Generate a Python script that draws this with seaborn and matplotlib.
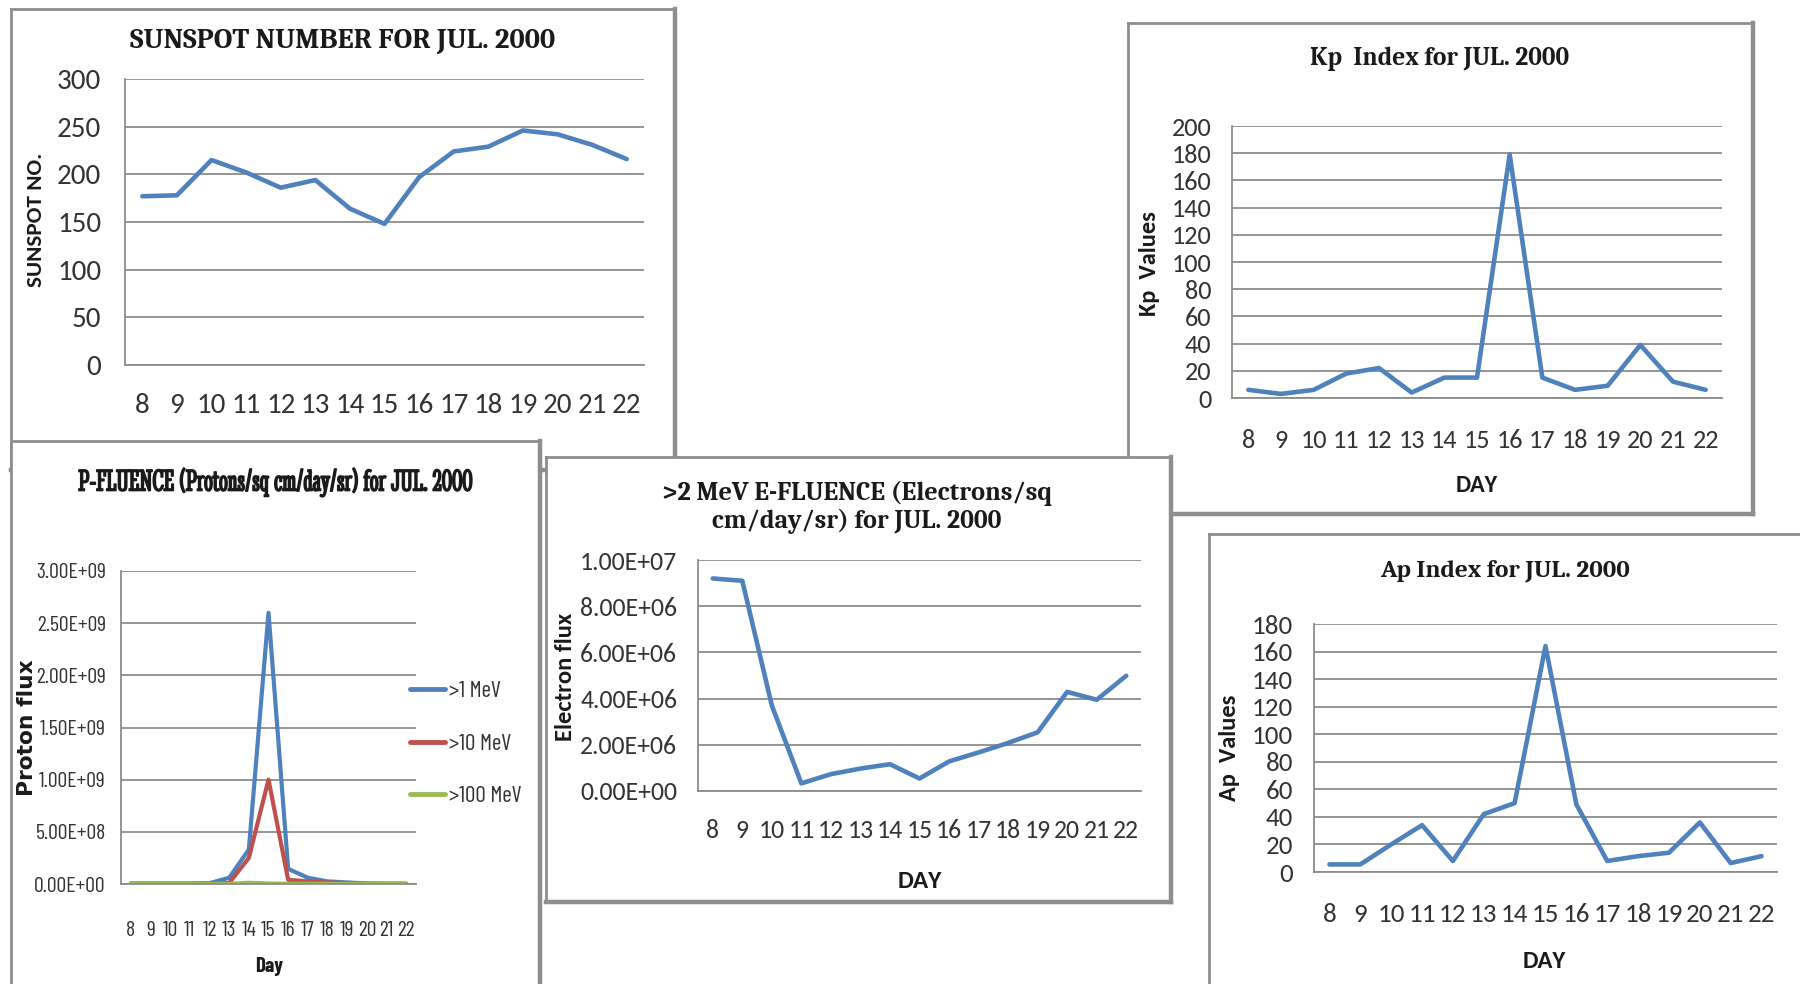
import numpy as np
import pandas as pd
import matplotlib
matplotlib.use("Agg")
import matplotlib.pyplot as plt
import matplotlib.patheffects as pe
import seaborn as sns
from matplotlib import font_manager
from matplotlib.font_manager import FontProperties
from matplotlib.textpath import TextPath
from matplotlib.ticker import FuncFormatter

# ---- data (July 2000, days 8-22) ----
days = [8, 9, 10, 11, 12, 13, 14, 15, 16, 17, 18, 19, 20, 21, 22]
sunspot_no = [177, 178, 215, 202, 186, 194, 164, 148, 197, 224, 229, 246, 242, 231, 216]
kp_values = [6, 3, 6, 18, 22, 4, 15, 15, 179, 15, 6, 9, 39, 12, 6]
ap_values = [5.5, 5.5, 20, 34, 8, 42, 50, 164, 49, 8, 11.5, 14, 36, 6.5, 11.5]
electron_flux = [9.20e6, 9.10e6, 3.70e6, 0.33e6, 0.73e6, 0.97e6, 1.16e6, 0.54e6,
                 1.28e6, 1.67e6, 2.08e6, 2.54e6, 4.29e6, 3.95e6, 4.99e6]
proton_1mev = [5e6, 5e6, 5e6, 5e6, 8e6, 6e7, 3.3e8, 2.6e9, 1.45e8, 6e7, 2.5e7, 1.5e7, 5e6, 3e6, 3e6]
proton_10mev = [2e6, 2e6, 2e6, 2e6, 2e6, 1e7, 2.5e8, 1.0e9, 4e7, 2.5e7, 1.5e7, 8e6, 3e6, 2e6, 2e6]
proton_100mev = [1e6, 1e6, 1e6, 1e6, 1e6, 2e6, 1.2e7, 5e6, 2e6, 1e6, 1e6, 1e6, 1e6, 1e6, 1e6]
energy_labels = [">1 MeV", ">10 MeV", ">100 MeV"]

BLUE, RED, GREEN = "#4F81BD", "#C0504D", "#9BBB59"
GRID = "#8C8C8C"
FRAME = "#8E8E8E"
TXT = "#1a1a1a"
TICK = "#333333"

sns.set_theme(style="white")
fonts = font_manager.fontManager.ttflist
installed = {f.name for f in fonts}
with_bold = {f.name for f in fonts if (f.weight if isinstance(f.weight, int) else 400) >= 600
             or f.weight in ("bold", "semibold", "demibold", "heavy", "black")}


def pick(*names):
    return next((n for n in names if n in installed), "DejaVu Sans")


def extent(text, family, weight="normal"):
    fp = FontProperties(family=[family], weight=weight, size=100)
    return TextPath((0, 0), text, prop=fp).get_extents()


def closest(text, ref_glyph, target, names, weight="normal"):
    """Installed family whose width/glyph-height ratio for `text` is nearest `target`."""
    avail = [n for n in names if n in installed] or ["DejaVu Sans"]

    def score(n):
        r = extent(text, n, weight).width / extent(ref_glyph, n, weight).height
        return abs(r - target)
    return min(avail, key=score)


SANS = pick("Carlito", "Liberation Sans", "DejaVu Sans")
SERIF = pick("Caladea", "Liberation Serif", "DejaVu Serif")
WIDE = pick("DejaVu Sans")
P_TITLE = "P-FLUENCE (Protons/sq cm/day/sr) for JUL. 2000"
NARROW_SERIF = closest(P_TITLE, "H", 21.8,
                       ["Caladea", "Liberation Serif", "PT Serif", "Source Serif 4", "Crimson Pro",
                        "EB Garamond", "Libre Caslon Condensed", "Stint Ultra Condensed",
                        "Oranienbaum", "Noto Serif Display", "Playfair Display"], "bold")
NARROW = closest("3.00E+09", "0", 4.33,
                 ["PT Sans Narrow", "Archivo Narrow", "Roboto Condensed", "Barlow Condensed",
                  "Barlow Semi Condensed", "Sofia Sans Condensed", "Sofia Sans Extra Condensed",
                  "Saira Condensed", "Saira ExtraCondensed", "Encode Sans Condensed",
                  "Asap Condensed", "Cabin Condensed", "Fira Sans Condensed",
                  "IBM Plex Sans Condensed", "Pragati Narrow", "Reddit Sans Condensed"])
plt.rcParams["font.family"] = [SANS, "DejaVu Sans"]

W, H, DPI = 1800, 984, 100
fig = plt.figure(figsize=(W / DPI, H / DPI), dpi=DPI)
fig.patch.set_facecolor("white")


def fit(text, family, width_px, weight="normal"):
    """Font size (pt) at which `text` spans `width_px` pixels."""
    w = extent(text, family, weight).width
    return width_px * 72.0 / DPI * 100.0 / w


def rect(x0, y0, x1, y1):
    return [x0 / W, 1 - y1 / H, (x1 - x0) / W, (y1 - y0) / H]


def card(box, z):
    ax = fig.add_axes(rect(*box), zorder=z)
    ax.set_xticks([])
    ax.set_yticks([])
    ax.set_facecolor("white")
    for side, s in ax.spines.items():
        s.set_visible(True)
        s.set_color(FRAME)
        s.set_linewidth(3.2 if side in ("right", "bottom") else 2.0)
    return ax


def put(ax, x, y, s, family, width, weight="bold", rotation=0):
    size = fit(s, family, width, weight)
    t = ax.text(x / W, 1 - y / H, s, transform=fig.transFigure, ha="center", va="center",
                color=TXT, fontsize=size, fontweight=weight, family=[family], rotation=rotation)
    if weight == "bold" and family not in with_bold:
        # thicken strokes of families that ship only a regular face
        t.set_path_effects([pe.withStroke(linewidth=1.1, foreground=TXT)])
    return t


def chart(area, z, ymax, ystep, fmt, font, size, xpad, ypad):
    ax = fig.add_axes(rect(*area), zorder=z)
    ax.set_facecolor("none")
    ax.set_xlim(-0.5, len(days) - 0.5)
    ax.set_ylim(0, ymax)
    ax.set_yticks(np.arange(0, ymax + ystep / 2, ystep))
    ax.yaxis.set_major_formatter(FuncFormatter(fmt))
    ax.set_xticks(range(len(days)))
    ax.set_xticklabels([str(d) for d in days])
    ax.grid(False)
    ax.yaxis.grid(True, color=GRID, linewidth=1.3)
    for side in ("top", "right"):
        ax.spines[side].set_visible(False)
    for side in ("left", "bottom"):
        ax.spines[side].set_color(GRID)
        ax.spines[side].set_linewidth(1.3)
    ax.tick_params(axis="x", length=0, pad=xpad, labelsize=size, labelcolor=TICK)
    ax.tick_params(axis="y", length=0, pad=ypad, labelsize=size, labelcolor=TICK)
    for lab in ax.get_xticklabels() + ax.get_yticklabels():
        lab.set_fontfamily([font, "DejaVu Sans"])
    return ax


def finish(ax):
    ax.set_xlabel("")
    ax.set_ylabel("")


pos = np.arange(len(days))
int_fmt = lambda v, p: f"{v:.0f}"
sci_fmt = lambda v, p: f"{v:.2E}"

# ---- Sunspot number ----
c1 = card((11, 9, 675, 470), 1)
put(c1, 343, 41, "SUNSPOT NUMBER FOR JUL. 2000", SERIF, 423)
put(c1, 36, 220, "SUNSPOT NO.", SANS, 133, rotation=90)
a1 = chart((125, 79, 644, 365), 2, 300, 50, int_fmt, SANS, fit("300", SANS, 42), 20, 17)
df1 = pd.DataFrame({"pos": pos, "value": sunspot_no})
sns.lineplot(data=df1, x="pos", y="value", ax=a1, color=BLUE, linewidth=3.3, legend=False)
finish(a1)

# ---- Kp index ----
c2 = card((1128, 23, 1753, 514), 3)
put(c2, 1440, 59, "Kp  Index for JUL. 2000", SERIF, 258)
put(c2, 1149, 264, "Kp  Values", SANS, 103, rotation=90)
put(c2, 1477, 486, "DAY", SANS, 41)
a2 = chart((1232, 126, 1722, 398), 4, 200, 20, int_fmt, SANS, fit("200", SANS, 38), 22, 15)
df2 = pd.DataFrame({"pos": pos, "value": kp_values})
sns.lineplot(data=df2, x="pos", y="value", ax=a2, color=BLUE, linewidth=3.3, legend=False)
finish(a2)

# ---- Proton fluence ----
c3 = card((11, 441, 540, 1010), 5)
put(c3, 276, 482, P_TITLE, NARROW_SERIF, 393)
put(c3, 27, 728, "Proton flux", WIDE, 134, rotation=90)
put(c3, 269, 966, "Day", NARROW, 27)
a3 = chart((121, 571, 416, 884), 6, 3e9, 5e8, sci_fmt, NARROW, fit("3.00E+09", NARROW, 68), 27, 11)
df3 = pd.DataFrame({
    "pos": np.tile(pos, 3),
    "flux": proton_1mev + proton_10mev + proton_100mev,
    "energy": np.repeat(energy_labels, len(days)),
})
sns.lineplot(data=df3, x="pos", y="flux", hue="energy", hue_order=energy_labels,
             palette=[BLUE, RED, GREEN], ax=a3, linewidth=3.0)
finish(a3)
leg_size = fit(">100 MeV", NARROW, 71)
leg_px = leg_size * DPI / 72
leg = a3.legend(loc="center left", bbox_to_anchor=(410 / W, 1 - 744 / H),
                bbox_transform=fig.transFigure, frameon=False, borderpad=0, borderaxespad=0,
                handlelength=35 / leg_px, handletextpad=4 / leg_px,
                labelspacing=54 / leg_px - 1.0,
                prop={"family": [NARROW], "size": leg_size})
for h in leg.get_lines():
    h.set_linewidth(3.5)
for t in leg.get_texts():
    t.set_color(TICK)

# ---- Electron fluence ----
c4 = card((546, 457, 1171, 902), 7)
put(c4, 857, 493, ">2 MeV E-FLUENCE (Electrons/sq", SERIF, 388)
put(c4, 857, 521, "cm/day/sr) for JUL. 2000", SERIF, 288)
put(c4, 566, 677, "Electron flux", SANS, 127, rotation=90)
put(c4, 920, 881, "DAY", SANS, 43)
a4 = chart((698, 560, 1141, 791), 8, 1e7, 2e6, sci_fmt, SANS, fit("1.00E+07", SANS, 94), 20, 15)
df4 = pd.DataFrame({"pos": pos, "value": electron_flux})
sns.lineplot(data=df4, x="pos", y="value", ax=a4, color=BLUE, linewidth=3.3, legend=False)
finish(a4)

# ---- Ap index ----
c5 = card((1209, 534, 1815, 1010), 9)
put(c5, 1505, 571, "Ap Index for JUL. 2000", SERIF, 250)
put(c5, 1229, 748, "Ap  Values", SANS, 106, rotation=90)
put(c5, 1544, 961, "DAY", SANS, 42)
a5 = chart((1314, 624, 1777, 872), 10, 180, 20, int_fmt, SANS, fit("180", SANS, 38), 22, 15)
df5 = pd.DataFrame({"pos": pos, "value": ap_values})
sns.lineplot(data=df5, x="pos", y="value", ax=a5, color=BLUE, linewidth=3.3, legend=False)
finish(a5)

fig.savefig("out.png", dpi=DPI, facecolor="white")
